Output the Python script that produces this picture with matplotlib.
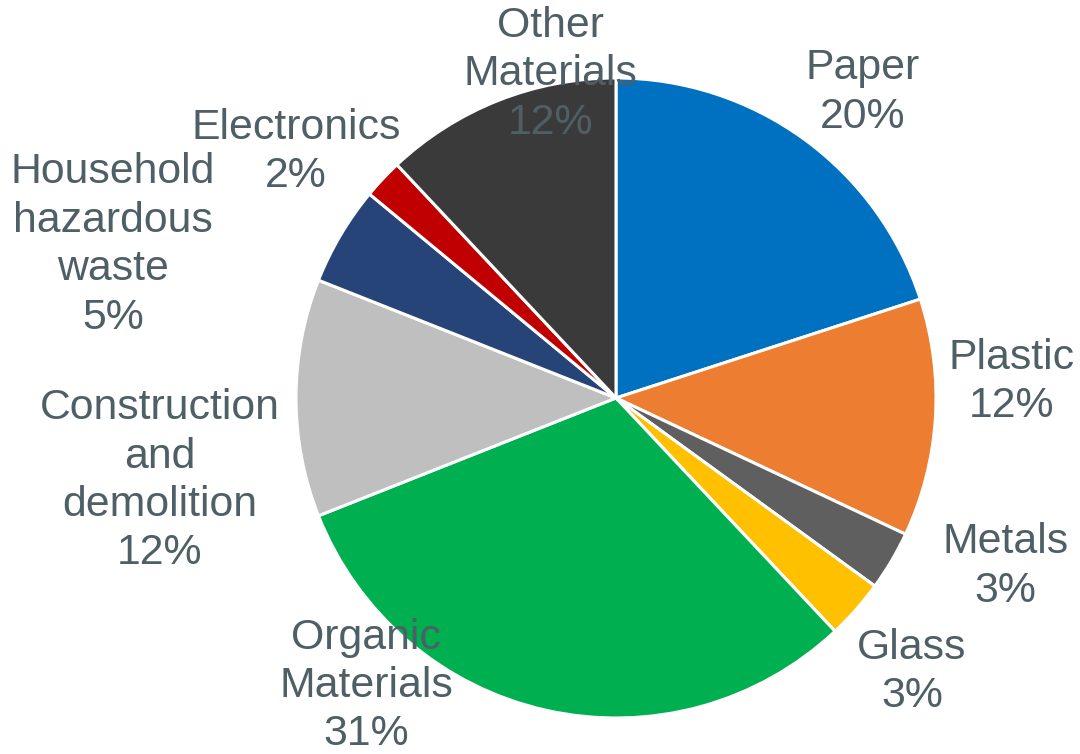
import matplotlib.pyplot as plt
import numpy as np

# Municipal waste composition, percent of total
categories = [
    "Paper",
    "Plastic",
    "Metals",
    "Glass",
    "Organic\nMaterials",
    "Construction\nand\ndemolition",
    "Household\nhazardous\nwaste",
    "Electronics",
    "Other\nMaterials",
]
shares = [20, 12, 3, 3, 31, 12, 5, 2, 12]

colors = [
    "#0070C0",
    "#ED7D31",
    "#5F5F5F",
    "#FFC000",
    "#00B050",
    "#BFBFBF",
    "#264478",
    "#C00000",
    "#3A3A3A",
]

# label anchors, in units of pie radius from the centre
label_pos = [
    (0.77, 0.955),
    (1.237, 0.05),
    (1.218, -0.527),
    (0.925, -0.857),
    (-0.78, -0.90),
    (-1.425, -0.259),
    (-1.572, 0.478),
    (-1.0, 0.769),
    (-0.206, 1.012),
]

TEXT_COLOR = "#4F5F66"
R_PX = 320.0
CX, CY = 616.0, 398.0
W, H = 1080, 754

fig = plt.figure(figsize=(W / 100, H / 100), dpi=100)
ax = fig.add_axes([0, 0, 1, 1])

wedges, _ = ax.pie(
    shares,
    colors=colors,
    startangle=90,
    counterclock=False,
    radius=1.0,
    wedgeprops=dict(edgecolor="white", linewidth=2.2),
)

for name, share, (lx, ly) in zip(categories, shares, label_pos):
    ax.text(
        lx,
        ly,
        f"{name}\n{share}%",
        ha="center",
        va="center",
        fontsize=30.8,
        family=["Liberation Sans", "DejaVu Sans"],
        color=TEXT_COLOR,
        linespacing=1.27,
        zorder=5,
    )

# map pixels to data units so the pie sits where it should
ax.set_xlim(-CX / R_PX, (W - CX) / R_PX)
ax.set_ylim((CY - H) / R_PX, CY / R_PX)
ax.set_aspect("auto")
ax.axis("off")

fig.savefig("out.png", dpi=100, facecolor="white")
